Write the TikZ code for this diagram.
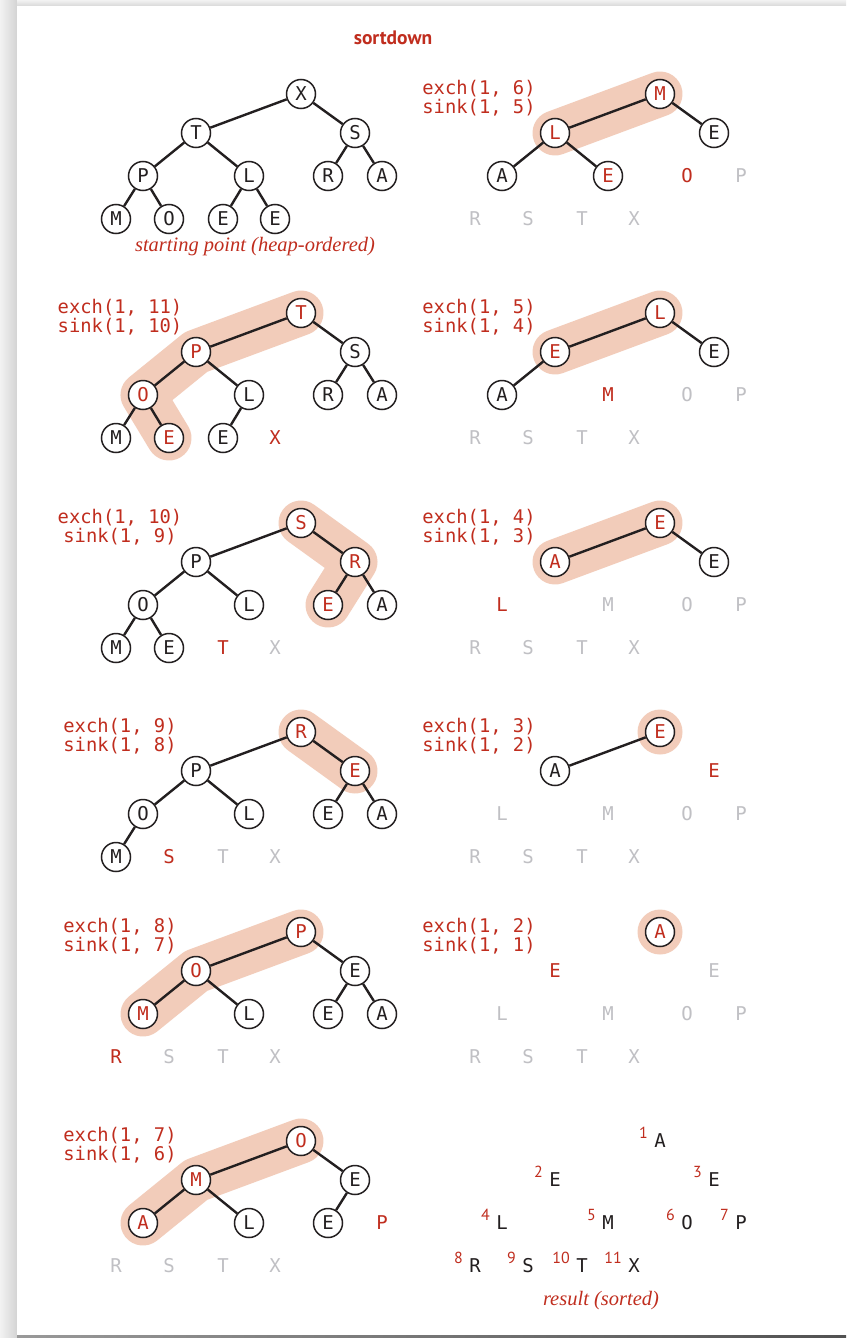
\documentclass[tikz,border=0pt]{standalone}
\usepackage{fontspec}
\usepackage{xcolor}
\usepackage{tikz}
\newfontfamily\keyfont{DejaVu Sans Mono}
\newfontfamily\headfont{PT Sans}
\newfontfamily\notefont{Liberation Serif}
\definecolor{sortred}{RGB}{192,45,30}
\definecolor{sortgray}{RGB}{192,192,196}
\definecolor{sortpeach}{RGB}{242,204,186}
\definecolor{ink}{RGB}{35,31,32}
\pgfdeclarelayer{paper}
\pgfdeclarelayer{background}
\pgfsetlayers{paper,background,main}
% x and y of heap index 1..11 inside one panel
\def\hxs{{301,196,355,143,249,328,382,116,169,223,275}}
\def\hys{{0,39,39,82,82,82,82,125,125,125,125}}

\begin{document}
\begin{tikzpicture}[x=1pt, y=-1pt,
    keynode/.style={circle, draw=ink, line width=1.5pt, fill=white,
                    minimum size=29pt, inner sep=0pt, text=ink,
                    font=\keyfont\fontsize{19}{19}\selectfont},
    hotnode/.style={keynode, text=sortred},
    outred/.style={inner sep=0pt, text=sortred,
                   font=\keyfont\fontsize{19}{19}\selectfont},
    outgray/.style={outred, text=sortgray},
    outblack/.style={outred, text=ink},
    link/.style={draw=ink, line width=2.4pt},
    band/.style={draw=sortpeach, line width=45pt, line cap=round, line join=round},
    callbox/.style={align=center, inner sep=0pt, text=sortred,
                    font=\keyfont\fontsize{18.8}{18.6}\selectfont},
    num/.style={inner sep=0pt, anchor=south east, text=sortred,
                font=\headfont\fontsize{16}{16}\selectfont},
    note/.style={inner sep=0pt, text=sortred,
                 font=\notefont\itshape\fontsize{20.5}{20.5}\selectfont}]
  \useasboundingbox (0,0) rectangle (846,1338);
  % the page with its shadow
  \begin{pgfonlayer}{paper}
    \shade[left color=black!5, right color=black!17] (0,0) rectangle (17,1338);
    \shade[top color=black!5, bottom color=black!15] (17,0) rectangle (846,6);
    \fill[white] (17,6) rectangle (846,1335);
    \shade[left color=black!40, right color=black!68] (17,1335) rectangle (846,1338);
  \end{pgfonlayer}

  \node[font=\headfont\bfseries\fontsize{19.5}{19.5}\selectfont, text=sortred]
    (title) at (393,38) {sortdown};

  % starting point
  \begin{scope}[shift={(0,94)}]
    \foreach \i/\c/\s in {1/X/keynode, 2/T/keynode, 3/S/keynode, 4/P/keynode,
        5/L/keynode, 6/R/keynode, 7/A/keynode, 8/M/keynode, 9/O/keynode,
        10/E/keynode, 11/E/keynode}
      \node[\s] (l1n\i) at (\hxs[\i-1], \hys[\i-1]) {\c};
    \foreach \a/\b in {1/2,1/3,2/4,2/5,3/6,3/7,4/8,4/9,5/10,5/11}
      \draw[link] (l1n\a) -- (l1n\b);
    \node[note] (start) at (255,153) {starting point (heap-ordered)};
  \end{scope}

  % exch(1, 11)
  \begin{scope}[shift={(0,313)}]
    \node[callbox] (l2c) at (120,4) {exch(1, 11)\\sink(1, 10)};
    \foreach \i/\c/\s in {1/T/hotnode, 2/P/hotnode, 3/S/keynode, 4/O/hotnode,
        5/L/keynode, 6/R/keynode, 7/A/keynode, 8/M/keynode, 9/E/hotnode,
        10/E/keynode, 11/X/outred}
      \node[\s] (l2n\i) at (\hxs[\i-1], \hys[\i-1]) {\c};
    \foreach \a/\b in {1/2,1/3,2/4,2/5,3/6,3/7,4/8,4/9,5/10}
      \draw[link] (l2n\a) -- (l2n\b);
    \begin{pgfonlayer}{background}
      \draw[band] (l2n1.center) -- (l2n2.center) -- (l2n4.center) -- (l2n9.center);
    \end{pgfonlayer}
  \end{scope}

  % exch(1, 10)
  \begin{scope}[shift={(0,523)}]
    \node[callbox] (l3c) at (120,4) {exch(1, 10)\\sink(1, 9)};
    \foreach \i/\c/\s in {1/S/hotnode, 2/P/keynode, 3/R/hotnode, 4/O/keynode,
        5/L/keynode, 6/E/hotnode, 7/A/keynode, 8/M/keynode, 9/E/keynode,
        10/T/outred, 11/X/outgray}
      \node[\s] (l3n\i) at (\hxs[\i-1], \hys[\i-1]) {\c};
    \foreach \a/\b in {1/2,1/3,2/4,2/5,3/6,3/7,4/8,4/9}
      \draw[link] (l3n\a) -- (l3n\b);
    \begin{pgfonlayer}{background}
      \draw[band] (l3n1.center) -- (l3n3.center) -- (l3n6.center);
    \end{pgfonlayer}
  \end{scope}

  % exch(1, 9)
  \begin{scope}[shift={(0,732)}]
    \node[callbox] (l4c) at (120,4) {exch(1, 9)\\sink(1, 8)};
    \foreach \i/\c/\s in {1/R/hotnode, 2/P/keynode, 3/E/hotnode, 4/O/keynode,
        5/L/keynode, 6/E/keynode, 7/A/keynode, 8/M/keynode, 9/S/outred,
        10/T/outgray, 11/X/outgray}
      \node[\s] (l4n\i) at (\hxs[\i-1], \hys[\i-1]) {\c};
    \foreach \a/\b in {1/2,1/3,2/4,2/5,3/6,3/7,4/8}
      \draw[link] (l4n\a) -- (l4n\b);
    \begin{pgfonlayer}{background}
      \draw[band] (l4n1.center) -- (l4n3.center);
    \end{pgfonlayer}
  \end{scope}

  % exch(1, 8)
  \begin{scope}[shift={(0,932)}]
    \node[callbox] (l5c) at (120,4) {exch(1, 8)\\sink(1, 7)};
    \foreach \i/\c/\s in {1/P/hotnode, 2/O/hotnode, 3/E/keynode, 4/M/hotnode,
        5/L/keynode, 6/E/keynode, 7/A/keynode, 8/R/outred, 9/S/outgray,
        10/T/outgray, 11/X/outgray}
      \node[\s] (l5n\i) at (\hxs[\i-1], \hys[\i-1]) {\c};
    \foreach \a/\b in {1/2,1/3,2/4,2/5,3/6,3/7}
      \draw[link] (l5n\a) -- (l5n\b);
    \begin{pgfonlayer}{background}
      \draw[band] (l5n1.center) -- (l5n2.center) -- (l5n4.center);
    \end{pgfonlayer}
  \end{scope}

  % exch(1, 7)
  \begin{scope}[shift={(0,1141)}]
    \node[callbox] (l6c) at (120,4) {exch(1, 7)\\sink(1, 6)};
    \foreach \i/\c/\s in {1/O/hotnode, 2/M/hotnode, 3/E/keynode, 4/A/hotnode,
        5/L/keynode, 6/E/keynode, 7/P/outred, 8/R/outgray, 9/S/outgray,
        10/T/outgray, 11/X/outgray}
      \node[\s] (l6n\i) at (\hxs[\i-1], \hys[\i-1]) {\c};
    \foreach \a/\b in {1/2,1/3,2/4,2/5,3/6}
      \draw[link] (l6n\a) -- (l6n\b);
    \begin{pgfonlayer}{background}
      \draw[band] (l6n1.center) -- (l6n2.center) -- (l6n4.center);
    \end{pgfonlayer}
  \end{scope}

  % exch(1, 6)
  \begin{scope}[shift={(359,94)}]
    \node[callbox] (r1c) at (120,4) {exch(1, 6)\\sink(1, 5)};
    \foreach \i/\c/\s in {1/M/hotnode, 2/L/hotnode, 3/E/keynode, 4/A/keynode,
        5/E/hotnode, 6/O/outred, 7/P/outgray, 8/R/outgray, 9/S/outgray,
        10/T/outgray, 11/X/outgray}
      \node[\s] (r1n\i) at (\hxs[\i-1], \hys[\i-1]) {\c};
    \foreach \a/\b in {1/2,1/3,2/4,2/5}
      \draw[link] (r1n\a) -- (r1n\b);
    \begin{pgfonlayer}{background}
      \draw[band] (r1n1.center) -- (r1n2.center);
    \end{pgfonlayer}
  \end{scope}

  % exch(1, 5)
  \begin{scope}[shift={(359,313)}]
    \node[callbox] (r2c) at (120,4) {exch(1, 5)\\sink(1, 4)};
    \foreach \i/\c/\s in {1/L/hotnode, 2/E/hotnode, 3/E/keynode, 4/A/keynode,
        5/M/outred, 6/O/outgray, 7/P/outgray, 8/R/outgray, 9/S/outgray,
        10/T/outgray, 11/X/outgray}
      \node[\s] (r2n\i) at (\hxs[\i-1], \hys[\i-1]) {\c};
    \foreach \a/\b in {1/2,1/3,2/4}
      \draw[link] (r2n\a) -- (r2n\b);
    \begin{pgfonlayer}{background}
      \draw[band] (r2n1.center) -- (r2n2.center);
    \end{pgfonlayer}
  \end{scope}

  % exch(1, 4)
  \begin{scope}[shift={(359,523)}]
    \node[callbox] (r3c) at (120,4) {exch(1, 4)\\sink(1, 3)};
    \foreach \i/\c/\s in {1/E/hotnode, 2/A/hotnode, 3/E/keynode, 4/L/outred,
        5/M/outgray, 6/O/outgray, 7/P/outgray, 8/R/outgray, 9/S/outgray,
        10/T/outgray, 11/X/outgray}
      \node[\s] (r3n\i) at (\hxs[\i-1], \hys[\i-1]) {\c};
    \foreach \a/\b in {1/2,1/3}
      \draw[link] (r3n\a) -- (r3n\b);
    \begin{pgfonlayer}{background}
      \draw[band] (r3n1.center) -- (r3n2.center);
    \end{pgfonlayer}
  \end{scope}

  % exch(1, 3)
  \begin{scope}[shift={(359,732)}]
    \node[callbox] (r4c) at (120,4) {exch(1, 3)\\sink(1, 2)};
    \foreach \i/\c/\s in {1/E/hotnode, 2/A/keynode, 3/E/outred, 4/L/outgray,
        5/M/outgray, 6/O/outgray, 7/P/outgray, 8/R/outgray, 9/S/outgray,
        10/T/outgray, 11/X/outgray}
      \node[\s] (r4n\i) at (\hxs[\i-1], \hys[\i-1]) {\c};
    \draw[link] (r4n1) -- (r4n2);
    \begin{pgfonlayer}{background}
      \fill[sortpeach] (r4n1.center) circle (22.5pt);
    \end{pgfonlayer}
  \end{scope}

  % exch(1, 2)
  \begin{scope}[shift={(359,932)}]
    \node[callbox] (r5c) at (120,4) {exch(1, 2)\\sink(1, 1)};
    \foreach \i/\c/\s in {1/A/hotnode, 2/E/outred, 3/E/outgray, 4/L/outgray,
        5/M/outgray, 6/O/outgray, 7/P/outgray, 8/R/outgray, 9/S/outgray,
        10/T/outgray, 11/X/outgray}
      \node[\s] (r5n\i) at (\hxs[\i-1], \hys[\i-1]) {\c};
    \begin{pgfonlayer}{background}
      \fill[sortpeach] (r5n1.center) circle (22.5pt);
    \end{pgfonlayer}
  \end{scope}

  % result
  \begin{scope}[shift={(359,1141)}]
    \foreach \i/\c in {1/A, 2/E, 3/E, 4/L, 5/M, 6/O, 7/P, 8/R, 9/S, 10/T, 11/X}{
      \node[outblack] (r6n\i) at (\hxs[\i-1], \hys[\i-1]) {\c};
      \node[num] (r6k\i) at ([xshift=-6pt, yshift=2pt]r6n\i.west) {\i};}
    \node[note] (sorted) at (242,160) {result (sorted)};
  \end{scope}
\end{tikzpicture}
\end{document}
